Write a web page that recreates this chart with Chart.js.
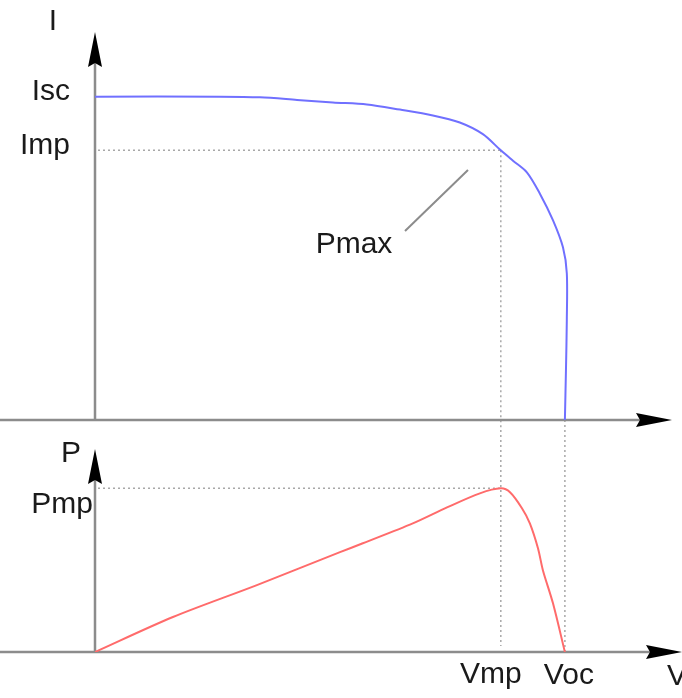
<!DOCTYPE html>
<html lang="en">
<head>
    <meta charset="UTF-8">
    <title>I-V and P-V curves</title>
    <script src="https://cdn.jsdelivr.net/npm/chart.js"></script>
    <style>
        body {
            margin: 0;
            background: #fff;
            width: 682px;
            height: 698px;
            position: relative;
            overflow: hidden;
        }
        .box {
            position: absolute;
            left: 0;
            width: 682px;
        }
        #topBox { top: 0; height: 430px; }
        #bottomBox { top: 430px; height: 268px; }
    </style>
</head>
<body>
    <div class="box" id="topBox"><canvas id="ivChart"></canvas></div>
    <div class="box" id="bottomBox"><canvas id="pvChart"></canvas></div>

    <script>
        // I-V curve (voltage, current)
        const ivVoltage = [0, 5.85, 7.72, 9.46, 11.14, 12.73, 14.28, 15.82, 17.08, 18.16, 19.0, 19.57, 20.22, 20.83, 21.44, 21.91, 22.09, 22.09, 22.05, 22.0];
        const ivCurrent = [5.0, 5.0, 4.99, 4.95, 4.91, 4.88, 4.80, 4.71, 4.60, 4.42, 4.17, 4.01, 3.83, 3.50, 3.09, 2.67, 2.27, 1.54, 0.77, 0];

        // P-V curve (voltage, power)
        const pvVoltage = [0, 3.65, 7.58, 11.47, 12.54, 14.88, 16.48, 18.02, 19.0, 19.43, 19.99, 20.36, 20.74, 20.97, 21.44, 22.0];
        const pvPower = [0, 16.9, 32.3, 48.2, 52.5, 62.1, 69.8, 76.6, 79.0, 77.1, 69.4, 62.1, 50.1, 39.5, 23.6, 0];

        // key points
        const Isc = 5.0;
        const Imp = 4.17;
        const Vmp = 19.0;
        const Voc = 22.0;
        const Pmp = 79.0;

        const FONT = '30px "Liberation Sans", Arial, sans-serif';
        const AXIS_COLOR = '#8c8c8c';
        const DOT_COLOR = '#a8a8a8';

        function toPoints(xs, ys) {
            return xs.map((x, i) => ({ x: x, y: ys[i] }));
        }

        function arrowRight(ctx, baseX, tipX, y) {
            ctx.beginPath();
            ctx.moveTo(tipX, y);
            ctx.lineTo(baseX, y - 7);
            ctx.lineTo(baseX + 4, y);
            ctx.lineTo(baseX, y + 7);
            ctx.closePath();
            ctx.fill();
        }

        function arrowUp(ctx, x, baseY, tipY) {
            ctx.beginPath();
            ctx.moveTo(x, tipY);
            ctx.lineTo(x - 7, baseY);
            ctx.lineTo(x, baseY - 4);
            ctx.lineTo(x + 7, baseY);
            ctx.closePath();
            ctx.fill();
        }

        function dotted(ctx, x1, y1, x2, y2) {
            ctx.save();
            ctx.strokeStyle = DOT_COLOR;
            ctx.lineWidth = 1.5;
            ctx.setLineDash([2, 3]);
            ctx.beginPath();
            ctx.moveTo(x1, y1);
            ctx.lineTo(x2, y2);
            ctx.stroke();
            ctx.restore();
        }

        function drawAxes(ctx, chart, xTip, yTip) {
            const xs = chart.scales.x, ys = chart.scales.y;
            const x0 = xs.getPixelForValue(0), y0 = ys.getPixelForValue(0);
            ctx.save();
            ctx.strokeStyle = AXIS_COLOR;
            ctx.lineWidth = 2.5;
            ctx.beginPath();
            ctx.moveTo(0, y0);
            ctx.lineTo(xTip - 30, y0);
            ctx.moveTo(x0, y0);
            ctx.lineTo(x0, yTip + 30);
            ctx.stroke();
            ctx.fillStyle = '#000';
            arrowRight(ctx, xTip - 36, xTip, y0);
            arrowUp(ctx, x0, yTip + 35, yTip);
            ctx.restore();
        }

        const ivDecor = {
            id: 'ivDecor',
            beforeDatasetsDraw(chart) {
                const ctx = chart.ctx;
                const xs = chart.scales.x, ys = chart.scales.y;
                const x0 = xs.getPixelForValue(0), y0 = ys.getPixelForValue(0);
                const xMp = xs.getPixelForValue(Vmp), yMp = ys.getPixelForValue(Imp);
                const xOc = xs.getPixelForValue(Voc);
                dotted(ctx, x0 + 3, yMp, xMp, yMp);
                dotted(ctx, xMp, yMp, xMp, chart.height);
                dotted(ctx, xOc, y0, xOc, chart.height);
                drawAxes(ctx, chart, chart.chartArea.right + 11, chart.chartArea.top);

                ctx.save();
                // leader line to the maximum power point
                ctx.strokeStyle = '#8c8c8c';
                ctx.lineWidth = 2;
                ctx.beginPath();
                ctx.moveTo(405, 231);
                ctx.lineTo(468, 170);
                ctx.stroke();

                ctx.fillStyle = '#1a1a1a';
                ctx.font = FONT;
                ctx.textAlign = 'center';
                ctx.textBaseline = 'alphabetic';
                ctx.fillText('I', 53, 30);
                ctx.fillText('Pmax', 354, 253);
                ctx.textAlign = 'left';
                ctx.fillText('V', 667, 456);
                ctx.textAlign = 'right';
                ctx.fillText('Isc', 70, ys.getPixelForValue(Isc) + 3);
                ctx.fillText('Imp', 70, yMp + 4);
                ctx.restore();
            }
        };

        const pvDecor = {
            id: 'pvDecor',
            beforeDatasetsDraw(chart) {
                const ctx = chart.ctx;
                const xs = chart.scales.x, ys = chart.scales.y;
                const x0 = xs.getPixelForValue(0), y0 = ys.getPixelForValue(0);
                const xMp = xs.getPixelForValue(Vmp), yMp = ys.getPixelForValue(Pmp);
                const xOc = xs.getPixelForValue(Voc);
                dotted(ctx, x0 + 3, yMp, xMp, yMp);
                dotted(ctx, xMp, 0, xMp, y0 - 6);
                dotted(ctx, xOc, 0, xOc, y0);
                drawAxes(ctx, chart, chart.chartArea.right + 21, chart.chartArea.top);

                ctx.save();
                ctx.fillStyle = '#1a1a1a';
                ctx.font = FONT;
                ctx.textBaseline = 'alphabetic';
                ctx.textAlign = 'right';
                ctx.fillText('P', 81, 32);
                ctx.fillText('Pmp', 93, yMp + 25);
                ctx.textAlign = 'center';
                ctx.fillText('Vmp', xMp - 10, y0 + 31);
                ctx.fillText('Voc', xOc + 4, y0 + 32);
                ctx.textAlign = 'left';
                ctx.fillText('V', 667, y0 + 33);
                ctx.restore();
            }
        };

        const baseOptions = {
            responsive: true,
            maintainAspectRatio: false,
            animation: false,
            plugins: { legend: { display: false }, tooltip: { enabled: false } },
            elements: { point: { radius: 0 } }
        };

        new Chart(document.getElementById('ivChart'), {
            type: 'line',
            data: {
                datasets: [{
                    data: toPoints(ivVoltage, ivCurrent),
                    borderColor: '#7070ff',
                    borderWidth: 2,
                    tension: 0.3
                }]
            },
            options: Object.assign({}, baseOptions, {
                layout: { padding: { left: 95, right: 21, top: 32, bottom: 10 } },
                scales: {
                    x: { type: 'linear', min: 0, max: 26.5, display: false },
                    y: { type: 'linear', min: 0, max: 6.0, display: false }
                }
            }),
            plugins: [ivDecor]
        });

        new Chart(document.getElementById('pvChart'), {
            type: 'line',
            data: {
                datasets: [{
                    data: toPoints(pvVoltage, pvPower),
                    borderColor: '#ff6b6b',
                    borderWidth: 2,
                    tension: 0.3
                }]
            },
            options: Object.assign({}, baseOptions, {
                layout: { padding: { left: 95, right: 21, top: 19, bottom: 46 } },
                scales: {
                    x: { type: 'linear', min: 0, max: 26.5, display: false },
                    y: { type: 'linear', min: 0, max: 98, display: false }
                }
            }),
            plugins: [pvDecor]
        });
    </script>
</body>
</html>
